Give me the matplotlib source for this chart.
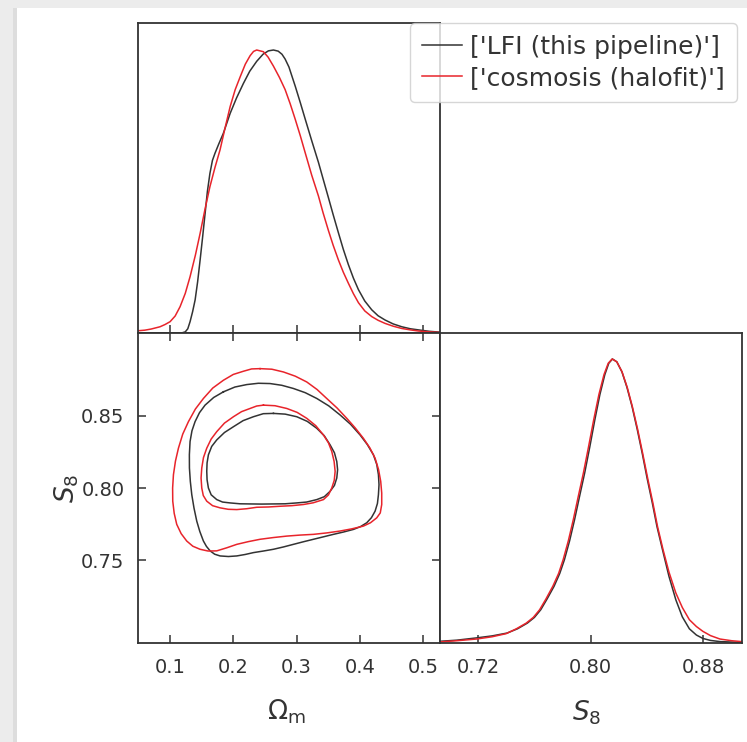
import matplotlib
matplotlib.use('Agg')
import matplotlib.pyplot as plt
from matplotlib.patches import Rectangle
from matplotlib.lines import Line2D

# ---------------- data ----------------
series_labels = ["['LFI (this pipeline)']", "['cosmosis (halofit)']"]
series_colors = ['#333333', '#e8242b']

om_ticks = [0.1, 0.2, 0.3, 0.4, 0.5]
om_ticklabels = ['0.1', '0.2', '0.3', '0.4', '0.5']
s8_ticks_y = [0.75, 0.80, 0.85]
s8_ticklabels_y = ['0.75', '0.80', '0.85']
s8_ticks_x = [0.72, 0.80, 0.88]
s8_ticklabels_x = ['0.72', '0.80', '0.88']
om_range = (0.0497, 0.527)
s8_range = (0.693, 0.907)

# 1D marginal of Omega_m (normalised to peak = 1)
om_lfi_x = [0.0497, 0.118, 0.124, 0.128, 0.1316, 0.1356, 0.1396, 0.1435, 0.1475, 0.1515,
            0.1554, 0.159, 0.163, 0.167, 0.171, 0.177, 0.1843, 0.195, 0.205, 0.216,
            0.226, 0.237, 0.247, 0.2555, 0.2635, 0.271, 0.277, 0.282, 0.288, 0.298,
            0.306, 0.3136, 0.324, 0.3347, 0.342, 0.3505, 0.358, 0.3663, 0.374, 0.382,
            0.390, 0.398, 0.408, 0.419, 0.429, 0.440, 0.453, 0.4666, 0.480, 0.4929,
            0.510, 0.527]
om_lfi_y = [0.0, 0.0, 0.004, 0.015, 0.040, 0.075, 0.117, 0.180, 0.258, 0.340,
            0.423, 0.500, 0.564, 0.610, 0.635, 0.668, 0.706, 0.776, 0.830, 0.882,
            0.925, 0.960, 0.985, 0.997, 1.0, 0.996, 0.985, 0.968, 0.940, 0.872,
            0.814, 0.757, 0.680, 0.603, 0.545, 0.478, 0.418, 0.354, 0.296, 0.242,
            0.194, 0.153, 0.113, 0.082, 0.061, 0.046, 0.032, 0.022, 0.015, 0.011,
            0.006, 0.003]
om_cos_x = [0.0497, 0.060, 0.070, 0.084, 0.092, 0.100, 0.108, 0.1158, 0.124, 0.1316,
            0.140, 0.1475, 0.155, 0.163, 0.171, 0.179, 0.187, 0.195, 0.203, 0.211,
            0.219, 0.2266, 0.232, 0.237, 0.2476, 0.255, 0.2635, 0.273, 0.282, 0.290,
            0.298, 0.306, 0.3136, 0.324, 0.3347, 0.342, 0.3505, 0.358, 0.3663, 0.374,
            0.382, 0.390, 0.398, 0.408, 0.419, 0.429, 0.440, 0.453, 0.4666, 0.480,
            0.493, 0.510, 0.527]
om_cos_y = [0.008, 0.010, 0.014, 0.022, 0.030, 0.040, 0.060, 0.093, 0.140, 0.199,
            0.275, 0.352, 0.435, 0.517, 0.585, 0.647, 0.725, 0.800, 0.860, 0.906,
            0.950, 0.980, 0.995, 1.0, 0.994, 0.975, 0.943, 0.903, 0.860, 0.810,
            0.755, 0.697, 0.638, 0.558, 0.484, 0.425, 0.362, 0.310, 0.258, 0.215,
            0.176, 0.139, 0.107, 0.078, 0.058, 0.045, 0.034, 0.024, 0.016, 0.011,
            0.007, 0.004, 0.002]

# 1D marginal of S8 (normalised to peak = 1)
s8_lfi_x = [0.693, 0.705, 0.719, 0.730, 0.7406, 0.748, 0.755, 0.760, 0.7645, 0.769,
            0.774, 0.778, 0.7813, 0.785, 0.7885, 0.792, 0.7957, 0.7993, 0.8029, 0.8065,
            0.810, 0.8128, 0.8154, 0.8185, 0.8221, 0.8257, 0.8293, 0.833, 0.8365, 0.840,
            0.8437, 0.847, 0.8509, 0.8555, 0.8604, 0.865, 0.870, 0.875, 0.8796, 0.885,
            0.8917, 0.907]
s8_lfi_y = [0.006, 0.010, 0.018, 0.025, 0.035, 0.050, 0.070, 0.090, 0.117, 0.155,
            0.200, 0.245, 0.293, 0.360, 0.434, 0.515, 0.599, 0.690, 0.786, 0.875,
            0.945, 0.985, 1.0, 0.990, 0.955, 0.900, 0.833, 0.752, 0.669, 0.580,
            0.493, 0.410, 0.329, 0.235, 0.152, 0.092, 0.050, 0.028, 0.016, 0.009,
            0.005, 0.002]
s8_cos_x = [0.693, 0.705, 0.719, 0.730, 0.7400, 0.7472, 0.7542, 0.7592, 0.7637, 0.7682,
            0.7731, 0.7772, 0.7804, 0.7841, 0.7876, 0.7911, 0.7948, 0.7984, 0.8021, 0.8058,
            0.8094, 0.8124, 0.8152, 0.8185, 0.8222, 0.8259, 0.8295, 0.8333, 0.8368, 0.8404,
            0.8441, 0.8474, 0.8513, 0.8555, 0.8604, 0.865, 0.870, 0.875, 0.8796, 0.885,
            0.8917, 0.900, 0.907]
s8_cos_y = [0.004, 0.008, 0.014, 0.022, 0.033, 0.050, 0.070, 0.090, 0.117, 0.155,
            0.200, 0.245, 0.293, 0.360, 0.434, 0.515, 0.599, 0.690, 0.786, 0.875,
            0.945, 0.985, 1.0, 0.990, 0.955, 0.900, 0.833, 0.752, 0.669, 0.580,
            0.493, 0.410, 0.329, 0.250, 0.176, 0.125, 0.082, 0.058, 0.041, 0.026,
            0.014, 0.008, 0.005]

# 2D contours (Omega_m, S8): 68% and 95% levels
lfi_95_om = [0.1844, 0.2025, 0.2213, 0.2397, 0.2582, 0.2767, 0.2951, 0.3138, 0.3321, 0.3510,
             0.3690, 0.3855, 0.4006, 0.4120, 0.4217, 0.4270, 0.4296, 0.4305, 0.4296, 0.4280,
             0.4243, 0.4185, 0.4111, 0.4010, 0.3900, 0.3742, 0.3584, 0.3426, 0.3268, 0.3110,
             0.2951, 0.2793, 0.2635, 0.2477, 0.2319, 0.2187, 0.2055, 0.1923, 0.1791, 0.1705,
             0.1633, 0.1575, 0.1527, 0.1470, 0.1422, 0.1378, 0.1343, 0.1320, 0.1306, 0.1305,
             0.1316, 0.1346, 0.1395, 0.1465, 0.1553, 0.1690]
lfi_95_s8 = [0.8664, 0.8697, 0.8714, 0.8723, 0.8721, 0.8709, 0.8687, 0.8658, 0.8618, 0.8567,
             0.8504, 0.8440, 0.8366, 0.8300, 0.8229, 0.8162, 0.8092, 0.8023, 0.7954, 0.7893,
             0.7840, 0.7795, 0.7760, 0.7733, 0.7714, 0.7696, 0.7680, 0.7663, 0.7646, 0.7629,
             0.7611, 0.7593, 0.7577, 0.7565, 0.7554, 0.7541, 0.7531, 0.7527, 0.7531, 0.7543,
             0.7566, 0.7597, 0.7634, 0.7700, 0.7771, 0.7862, 0.7954, 0.8046, 0.8138, 0.8230,
             0.8321, 0.8395, 0.8458, 0.8520, 0.8572, 0.8625]
cos_95_om = [0.2424, 0.2610, 0.2793, 0.2980, 0.3162, 0.3325, 0.3478, 0.3640, 0.3795, 0.3930,
             0.4058, 0.4160, 0.4243, 0.4298, 0.4332, 0.4348, 0.4348, 0.4325, 0.4269, 0.4170,
             0.4058, 0.3875, 0.3690, 0.3480, 0.3268, 0.3057, 0.2846, 0.2635, 0.2424, 0.2240,
             0.2055, 0.1895, 0.1738, 0.1600, 0.1474, 0.1360, 0.1263, 0.1175, 0.1105, 0.1065,
             0.1042, 0.1040, 0.1053, 0.1085, 0.1132, 0.1200, 0.1290, 0.1400, 0.1527, 0.1675,
             0.1844, 0.2000, 0.2160, 0.2290]
cos_95_s8 = [0.8824, 0.8820, 0.8801, 0.8772, 0.8732, 0.8680, 0.8618, 0.8553, 0.8481, 0.8414,
             0.8343, 0.8277, 0.8206, 0.8127, 0.8046, 0.7965, 0.7886, 0.7828, 0.7794, 0.7760,
             0.7737, 0.7718, 0.7703, 0.7690, 0.7680, 0.7675, 0.7668, 0.7658, 0.7646, 0.7630,
             0.7611, 0.7587, 0.7566, 0.7565, 0.7577, 0.7598, 0.7634, 0.7685, 0.7749, 0.7825,
             0.7909, 0.8000, 0.8092, 0.8186, 0.8275, 0.8372, 0.8458, 0.8545, 0.8618, 0.8690,
             0.8744, 0.8784, 0.8806, 0.8822]
lfi_68_om = [0.2635, 0.2820, 0.3004, 0.3170, 0.3321, 0.3440, 0.3531, 0.3600, 0.3637, 0.3650,
             0.3637, 0.3600, 0.3531, 0.3440, 0.3321, 0.3160, 0.3004, 0.2820, 0.2635, 0.2450,
             0.2265, 0.2105, 0.1949, 0.1830, 0.1738, 0.1650, 0.1606, 0.1585, 0.1580, 0.1585,
             0.1606, 0.1658, 0.1738, 0.1860, 0.2002, 0.2155, 0.2318, 0.2475]
lfi_68_s8 = [0.8515, 0.8510, 0.8492, 0.8460, 0.8412, 0.8360, 0.8298, 0.8243, 0.8183, 0.8126,
             0.8069, 0.8018, 0.7977, 0.7940, 0.7920, 0.7903, 0.7897, 0.7891, 0.7890, 0.7889,
             0.7890, 0.7891, 0.7897, 0.7903, 0.7920, 0.7953, 0.8000, 0.8057, 0.8115, 0.8173,
             0.8229, 0.8287, 0.8332, 0.8383, 0.8423, 0.8465, 0.8492, 0.8513]
cos_68_om = [0.2477, 0.2660, 0.2846, 0.3010, 0.3162, 0.3305, 0.3426, 0.3505, 0.3558, 0.3595,
             0.3611, 0.3597, 0.3558, 0.3505, 0.3426, 0.3265, 0.3109, 0.2925, 0.2741, 0.2556,
             0.2371, 0.2213, 0.2055, 0.1920, 0.1791, 0.1672, 0.1580, 0.1525, 0.1501, 0.1490,
             0.1501, 0.1528, 0.1580, 0.1650, 0.1738, 0.1860, 0.2002, 0.2130, 0.2265, 0.2370]
cos_68_s8 = [0.8572, 0.8568, 0.8549, 0.8522, 0.8481, 0.8430, 0.8366, 0.8312, 0.8252, 0.8183,
             0.8115, 0.8053, 0.8000, 0.7952, 0.7920, 0.7898, 0.7886, 0.7878, 0.7874, 0.7869,
             0.7867, 0.7857, 0.7851, 0.7853, 0.7863, 0.7878, 0.7909, 0.7948, 0.8000, 0.8069,
             0.8138, 0.8210, 0.8275, 0.8338, 0.8389, 0.8448, 0.8492, 0.8527, 0.8549, 0.8566]

# ---------------- figure ----------------
W, H = 747, 742
fig = plt.figure(figsize=(W / 100, H / 100), dpi=100)
fig.patch.set_facecolor('#ececec')
fig.add_artist(Rectangle((13 / W, 0), 4 / W, 1 - 8 / H, transform=fig.transFigure,
                         facecolor='#dddddd', edgecolor='none', zorder=-2))
fig.add_artist(Rectangle((17 / W, 0), 1 - 17 / W, 1 - 8 / H, transform=fig.transFigure,
                         facecolor='white', edgecolor='none', zorder=-1))


def px_rect(xa, ya, xb, yb):
    return [xa / W, 1 - yb / H, (xb - xa) / W, (yb - ya) / H]


x0, xm, x1 = 138.3, 440.0, 741.5
y0, ym, y1 = 22.7, 333.0, 643.0
ax_tl = fig.add_axes(px_rect(x0, y0, xm, ym))
ax_bl = fig.add_axes(px_rect(x0, ym, xm, y1))
ax_br = fig.add_axes(px_rect(xm, ym, x1, y1))

lw = 1.1
spine_c = '#333333'
tick_fs = 14
label_fs = 19

for ax in (ax_tl, ax_bl, ax_br):
    for s in ax.spines.values():
        s.set_color(spine_c)
        s.set_linewidth(1.3)
    ax.tick_params(direction='in', length=6, width=1.1, color=spine_c,
                   labelsize=tick_fs, labelcolor='#333333')

# top-left: Omega_m marginal
ax_tl.plot(om_lfi_x, om_lfi_y, color=series_colors[0], lw=lw)
ax_tl.plot(om_cos_x, om_cos_y, color=series_colors[1], lw=lw)
ax_tl.set_xlim(*om_range)
ax_tl.set_ylim(0, 1.0965)
ax_tl.set_xticks(om_ticks)
ax_tl.set_yticks([])
ax_tl.tick_params(labelbottom=False, left=False)

# bottom-left: 2D contours
for xs, ys, c in ((lfi_95_om, lfi_95_s8, series_colors[0]),
                  (lfi_68_om, lfi_68_s8, series_colors[0]),
                  (cos_95_om, cos_95_s8, series_colors[1]),
                  (cos_68_om, cos_68_s8, series_colors[1])):
    ax_bl.plot(list(xs) + [xs[0]], list(ys) + [ys[0]], color=c, lw=lw,
               solid_joinstyle='round')
ax_bl.set_xlim(*om_range)
ax_bl.set_ylim(*s8_range)
ax_bl.set_xticks(om_ticks)
ax_bl.set_xticklabels(om_ticklabels)
ax_bl.set_yticks(s8_ticks_y)
ax_bl.set_yticklabels(s8_ticklabels_y)
ax_bl.tick_params(top=True, right=True)
ax_bl.tick_params(axis='x', pad=11)
ax_bl.tick_params(axis='y', pad=10)
ax_bl.set_xlabel(r'$\Omega_{\rm m}$', fontsize=label_fs, color='#333333')
ax_bl.xaxis.label.set_va('center')
ax_bl.xaxis.set_label_coords(0.49, -(712 - 643) / 310)
ax_bl.set_ylabel(r'$S_8$', fontsize=label_fs, color='#333333')
ax_bl.yaxis.label.set_va('center')
ax_bl.yaxis.set_label_coords(-(138.3 - 67) / 301.7, 0.5)

# bottom-right: S8 marginal
ax_br.plot(s8_lfi_x, s8_lfi_y, color=series_colors[0], lw=lw)
ax_br.plot(s8_cos_x, s8_cos_y, color=series_colors[1], lw=lw)
ax_br.set_xlim(*s8_range)
ax_br.set_ylim(0, 1.0915)
ax_br.set_xticks(s8_ticks_x)
ax_br.set_xticklabels(s8_ticklabels_x)
ax_br.set_yticks([])
ax_br.tick_params(axis='x', pad=11)
ax_br.tick_params(left=False)
ax_br.set_xlabel(r'$S_8$', fontsize=label_fs, color='#333333')
ax_br.xaxis.label.set_va('center')
ax_br.xaxis.set_label_coords(0.487, -(713 - 643) / 310)

handles = [Line2D([], [], color=c, lw=lw) for c in series_colors]
fig.legend(handles, series_labels, loc='upper right',
           bbox_to_anchor=(737 / W, 1 - 22.7 / H), borderaxespad=0,
           fontsize=18, framealpha=0.8, labelcolor='#333333',
           handlelength=1.6, handletextpad=0.35, labelspacing=0.3,
           borderpad=0.48)

fig.savefig('out.png', dpi=100, facecolor=fig.get_facecolor())
